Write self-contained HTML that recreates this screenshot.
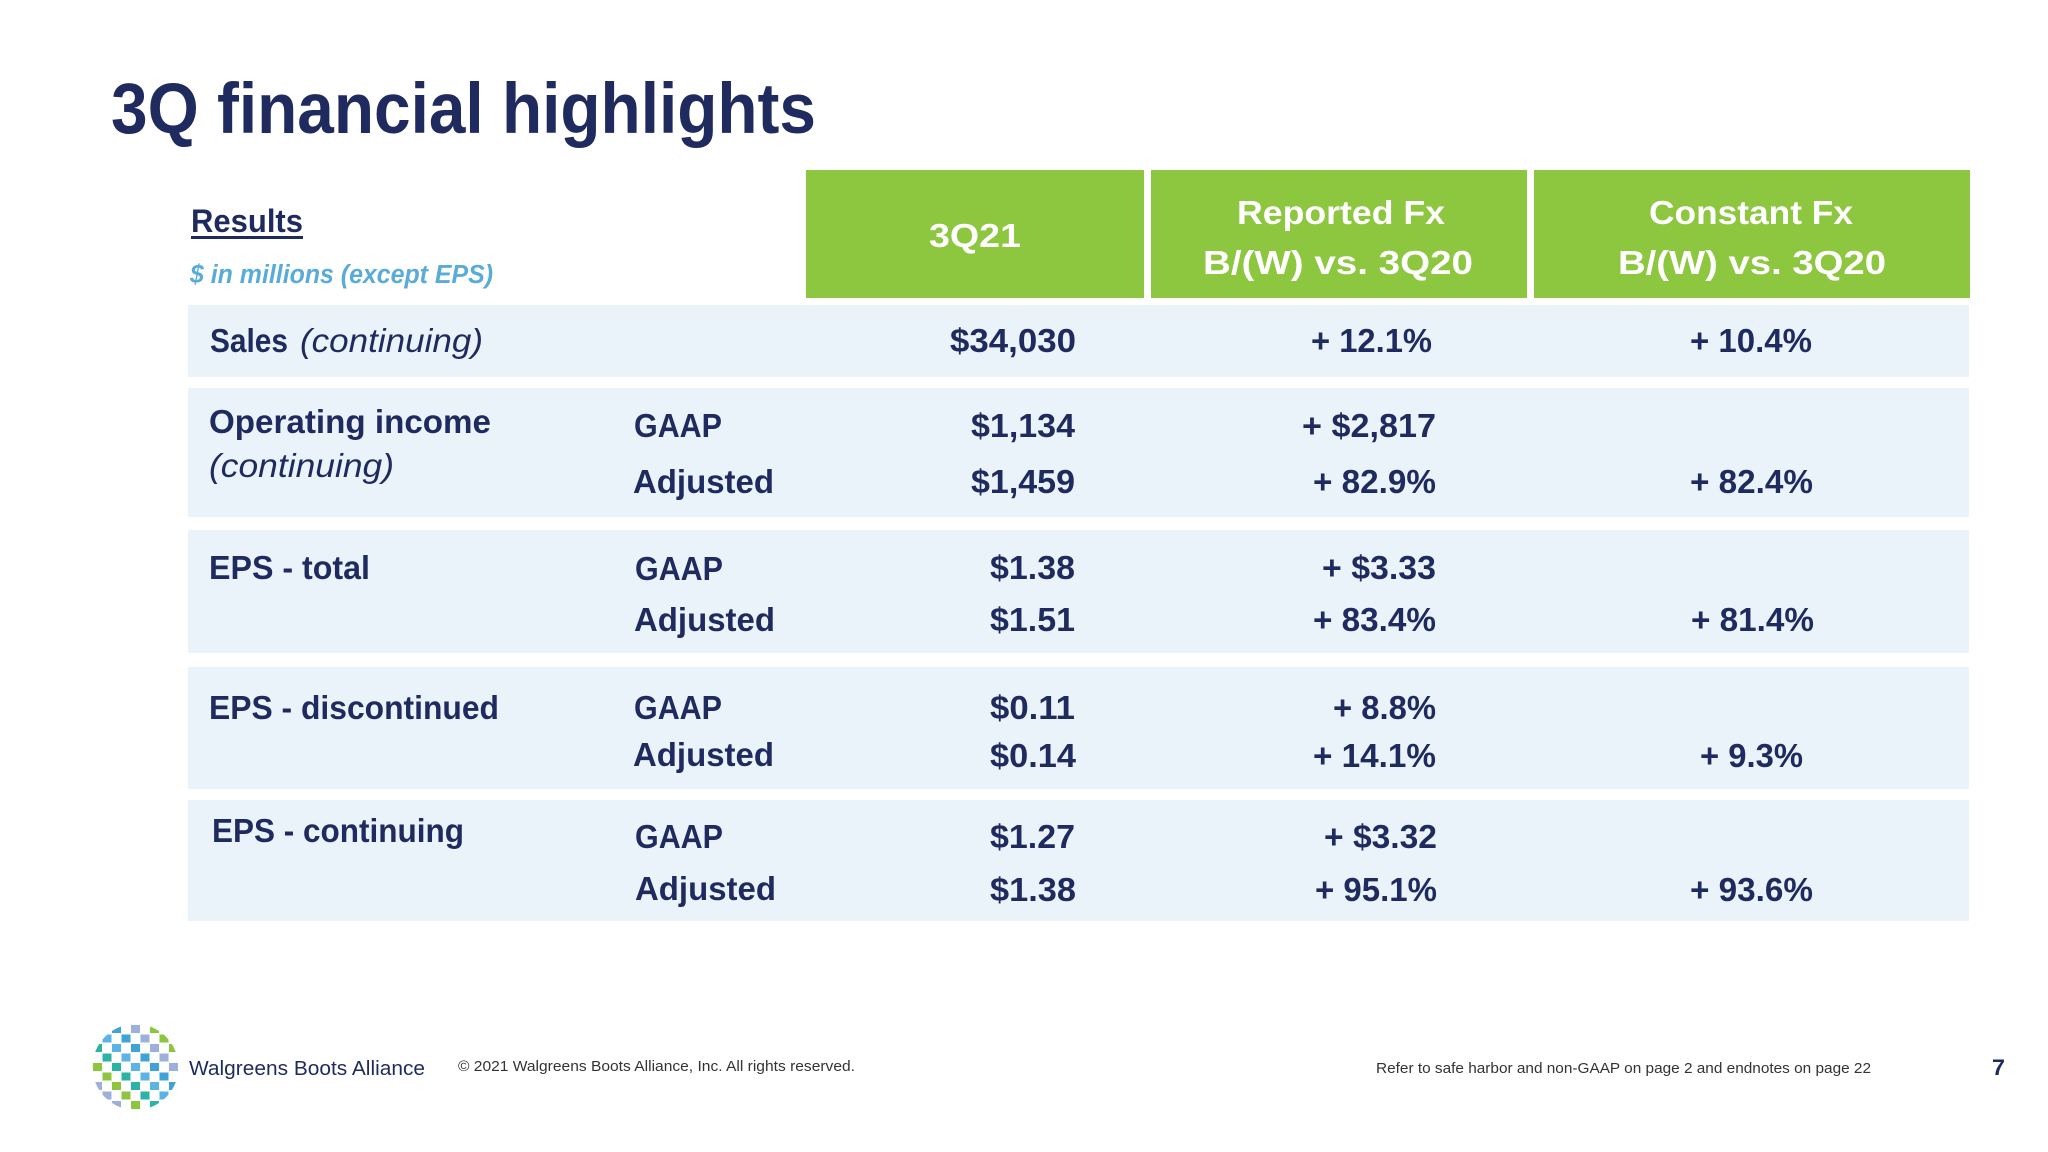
<!DOCTYPE html>
<html>
<head>
<meta charset="utf-8">
<style>
html,body{margin:0;padding:0;background:#fff;}
svg{display:block;}
text{font-family:"Liberation Sans",sans-serif;}
.b{font-weight:bold;fill:#1f2a5e;}
.w{font-weight:bold;fill:#ffffff;}
</style>
</head>
<body>
<svg width="2048" height="1152" viewBox="0 0 2048 1152" xmlns="http://www.w3.org/2000/svg">
<rect x="0" y="0" width="2048" height="1152" fill="#ffffff"/>

<!-- Title -->
<text class="b" x="111" y="133" font-size="71" textLength="705" lengthAdjust="spacingAndGlyphs">3Q financial highlights</text>

<!-- Results header -->
<text class="b" x="191" y="232" font-size="32" textLength="112" lengthAdjust="spacingAndGlyphs">Results</text>
<rect x="191" y="236" width="112" height="3" fill="#1f2a5e"/>
<text x="190" y="283" font-size="25.5" font-weight="bold" font-style="italic" fill="#5aacd8" textLength="303" lengthAdjust="spacingAndGlyphs">$ in millions (except EPS)</text>

<!-- Green header -->
<rect x="806" y="170" width="338" height="128" fill="#8dc63f"/>
<rect x="1151" y="170" width="376" height="128" fill="#8dc63f"/>
<rect x="1534" y="170" width="436" height="128" fill="#8dc63f"/>
<text class="w" x="929" y="247" font-size="33" textLength="92" lengthAdjust="spacingAndGlyphs">3Q21</text>
<text class="w" x="1237" y="224" font-size="33" textLength="208" lengthAdjust="spacingAndGlyphs">Reported Fx</text>
<text class="w" x="1203" y="274" font-size="33" textLength="270" lengthAdjust="spacingAndGlyphs">B/(W) vs. 3Q20</text>
<text class="w" x="1649" y="224" font-size="33" textLength="204" lengthAdjust="spacingAndGlyphs">Constant Fx</text>
<text class="w" x="1618" y="274" font-size="33" textLength="268" lengthAdjust="spacingAndGlyphs">B/(W) vs. 3Q20</text>

<!-- Row backgrounds -->
<rect x="188" y="305" width="1781" height="72" fill="#eaf3fa"/>
<rect x="188" y="388" width="1781" height="129" fill="#eaf3fa"/>
<rect x="188" y="530" width="1781" height="123" fill="#eaf3fa"/>
<rect x="188" y="667" width="1781" height="122" fill="#eaf3fa"/>
<rect x="188" y="800" width="1781" height="121" fill="#eaf3fa"/>

<!-- Sales row -->
<text class="b" x="210" y="352" font-size="33" textLength="78" lengthAdjust="spacingAndGlyphs">Sales</text>
<text x="300" y="352" font-size="33" font-style="italic" fill="#1f2a5e" textLength="183" lengthAdjust="spacingAndGlyphs">(continuing)</text>
<text class="b" x="950" y="352" font-size="33" textLength="126" lengthAdjust="spacingAndGlyphs">$34,030</text>
<text class="b" x="1311" y="352" font-size="33" textLength="121" lengthAdjust="spacingAndGlyphs">+ 12.1%</text>
<text class="b" x="1690" y="352" font-size="33" textLength="122" lengthAdjust="spacingAndGlyphs">+ 10.4%</text>

<!-- Operating income -->
<text class="b" x="209" y="433" font-size="33" textLength="282" lengthAdjust="spacingAndGlyphs">Operating income</text>
<text x="209" y="477" font-size="33" font-style="italic" fill="#1f2a5e" textLength="185" lengthAdjust="spacingAndGlyphs">(continuing)</text>
<text class="b" x="634" y="437" font-size="33" textLength="88" lengthAdjust="spacingAndGlyphs">GAAP</text>
<text class="b" x="633" y="493" font-size="33" textLength="141" lengthAdjust="spacingAndGlyphs">Adjusted</text>
<text class="b" x="971" y="437" font-size="33" textLength="104" lengthAdjust="spacingAndGlyphs">$1,134</text>
<text class="b" x="971" y="493" font-size="33" textLength="104" lengthAdjust="spacingAndGlyphs">$1,459</text>
<text class="b" x="1302" y="437" font-size="33" textLength="134" lengthAdjust="spacingAndGlyphs">+ $2,817</text>
<text class="b" x="1313" y="493" font-size="33" textLength="123" lengthAdjust="spacingAndGlyphs">+ 82.9%</text>
<text class="b" x="1690" y="493" font-size="33" textLength="123" lengthAdjust="spacingAndGlyphs">+ 82.4%</text>

<!-- EPS total -->
<text class="b" x="209" y="579" font-size="33" textLength="161" lengthAdjust="spacingAndGlyphs">EPS - total</text>
<text class="b" x="635" y="580" font-size="33" textLength="88" lengthAdjust="spacingAndGlyphs">GAAP</text>
<text class="b" x="634" y="631" font-size="33" textLength="141" lengthAdjust="spacingAndGlyphs">Adjusted</text>
<text class="b" x="990" y="579" font-size="33" textLength="85" lengthAdjust="spacingAndGlyphs">$1.38</text>
<text class="b" x="990" y="631" font-size="33" textLength="85" lengthAdjust="spacingAndGlyphs">$1.51</text>
<text class="b" x="1322" y="579" font-size="33" textLength="114" lengthAdjust="spacingAndGlyphs">+ $3.33</text>
<text class="b" x="1313" y="631" font-size="33" textLength="123" lengthAdjust="spacingAndGlyphs">+ 83.4%</text>
<text class="b" x="1691" y="631" font-size="33" textLength="123" lengthAdjust="spacingAndGlyphs">+ 81.4%</text>

<!-- EPS discontinued -->
<text class="b" x="209" y="719" font-size="33" textLength="290" lengthAdjust="spacingAndGlyphs">EPS - discontinued</text>
<text class="b" x="634" y="719" font-size="33" textLength="88" lengthAdjust="spacingAndGlyphs">GAAP</text>
<text class="b" x="633" y="766" font-size="33" textLength="141" lengthAdjust="spacingAndGlyphs">Adjusted</text>
<text class="b" x="990" y="719" font-size="33" textLength="85" lengthAdjust="spacingAndGlyphs">$0.11</text>
<text class="b" x="990" y="767" font-size="33" textLength="86" lengthAdjust="spacingAndGlyphs">$0.14</text>
<text class="b" x="1333" y="719" font-size="33" textLength="103" lengthAdjust="spacingAndGlyphs">+ 8.8%</text>
<text class="b" x="1313" y="767" font-size="33" textLength="123" lengthAdjust="spacingAndGlyphs">+ 14.1%</text>
<text class="b" x="1700" y="767" font-size="33" textLength="103" lengthAdjust="spacingAndGlyphs">+ 9.3%</text>

<!-- EPS continuing -->
<text class="b" x="212" y="842" font-size="33" textLength="252" lengthAdjust="spacingAndGlyphs">EPS - continuing</text>
<text class="b" x="635" y="848" font-size="33" textLength="88" lengthAdjust="spacingAndGlyphs">GAAP</text>
<text class="b" x="635" y="900" font-size="33" textLength="141" lengthAdjust="spacingAndGlyphs">Adjusted</text>
<text class="b" x="990" y="848" font-size="33" textLength="85" lengthAdjust="spacingAndGlyphs">$1.27</text>
<text class="b" x="990" y="901" font-size="33" textLength="86" lengthAdjust="spacingAndGlyphs">$1.38</text>
<text class="b" x="1324" y="848" font-size="33" textLength="113" lengthAdjust="spacingAndGlyphs">+ $3.32</text>
<text class="b" x="1315" y="901" font-size="33" textLength="122" lengthAdjust="spacingAndGlyphs">+ 95.1%</text>
<text class="b" x="1690" y="901" font-size="33" textLength="123" lengthAdjust="spacingAndGlyphs">+ 93.6%</text>

<!-- Footer logo -->
<defs>
<clipPath id="lc"><circle cx="135.5" cy="1067" r="43"/></clipPath>
</defs>
<g clip-path="url(#lc)">
<rect x="93" y="1025" width="9" height="8" fill="#5bb4e5"/>
<rect x="93" y="1044" width="9" height="8" fill="#2bb3a3"/>
<rect x="93" y="1063" width="9" height="8" fill="#8cc63f"/>
<rect x="93" y="1082" width="9" height="8" fill="#9db0dc"/>
<rect x="93" y="1101" width="9" height="8" fill="#3fa3d8"/>
<rect x="102.5" y="1034.5" width="9" height="8" fill="#5bb4e5"/>
<rect x="102.5" y="1053.5" width="9" height="8" fill="#2bb3a3"/>
<rect x="102.5" y="1072.5" width="9" height="8" fill="#8cc63f"/>
<rect x="102.5" y="1091.5" width="9" height="8" fill="#9db0dc"/>
<rect x="112" y="1025" width="9" height="8" fill="#3fa3d8"/>
<rect x="112" y="1044" width="9" height="8" fill="#5bb4e5"/>
<rect x="112" y="1063" width="9" height="8" fill="#2bb3a3"/>
<rect x="112" y="1082" width="9" height="8" fill="#8cc63f"/>
<rect x="112" y="1101" width="9" height="8" fill="#9db0dc"/>
<rect x="121.5" y="1034.5" width="9" height="8" fill="#3fa3d8"/>
<rect x="121.5" y="1053.5" width="9" height="8" fill="#5bb4e5"/>
<rect x="121.5" y="1072.5" width="9" height="8" fill="#2bb3a3"/>
<rect x="121.5" y="1091.5" width="9" height="8" fill="#8cc63f"/>
<rect x="131" y="1025" width="9" height="8" fill="#9db0dc"/>
<rect x="131" y="1044" width="9" height="8" fill="#3fa3d8"/>
<rect x="131" y="1063" width="9" height="8" fill="#5bb4e5"/>
<rect x="131" y="1082" width="9" height="8" fill="#2bb3a3"/>
<rect x="131" y="1101" width="9" height="8" fill="#8cc63f"/>
<rect x="140.5" y="1034.5" width="9" height="8" fill="#9db0dc"/>
<rect x="140.5" y="1053.5" width="9" height="8" fill="#3fa3d8"/>
<rect x="140.5" y="1072.5" width="9" height="8" fill="#5bb4e5"/>
<rect x="140.5" y="1091.5" width="9" height="8" fill="#2bb3a3"/>
<rect x="150" y="1025" width="9" height="8" fill="#8cc63f"/>
<rect x="150" y="1044" width="9" height="8" fill="#9db0dc"/>
<rect x="150" y="1063" width="9" height="8" fill="#3fa3d8"/>
<rect x="150" y="1082" width="9" height="8" fill="#5bb4e5"/>
<rect x="150" y="1101" width="9" height="8" fill="#2bb3a3"/>
<rect x="159.5" y="1034.5" width="9" height="8" fill="#8cc63f"/>
<rect x="159.5" y="1053.5" width="9" height="8" fill="#9db0dc"/>
<rect x="159.5" y="1072.5" width="9" height="8" fill="#3fa3d8"/>
<rect x="159.5" y="1091.5" width="9" height="8" fill="#5bb4e5"/>
<rect x="169" y="1025" width="9" height="8" fill="#2bb3a3"/>
<rect x="169" y="1044" width="9" height="8" fill="#8cc63f"/>
<rect x="169" y="1063" width="9" height="8" fill="#9db0dc"/>
<rect x="169" y="1082" width="9" height="8" fill="#3fa3d8"/>
<rect x="169" y="1101" width="9" height="8" fill="#5bb4e5"/>
</g>

<text x="189" y="1075" font-size="20" fill="#1f2a5e" textLength="236" lengthAdjust="spacingAndGlyphs">Walgreens Boots Alliance</text>
<text x="458" y="1071" font-size="15" fill="#333333" textLength="397" lengthAdjust="spacingAndGlyphs">© 2021 Walgreens Boots Alliance, Inc. All rights reserved.</text>
<text x="1376" y="1073" font-size="15" fill="#333333" textLength="495" lengthAdjust="spacingAndGlyphs">Refer to safe harbor and non-GAAP on page 2 and endnotes on page 22</text>
<text class="b" x="1992" y="1075" font-size="22" textLength="13" lengthAdjust="spacingAndGlyphs">7</text>
</svg>
</body>
</html>
